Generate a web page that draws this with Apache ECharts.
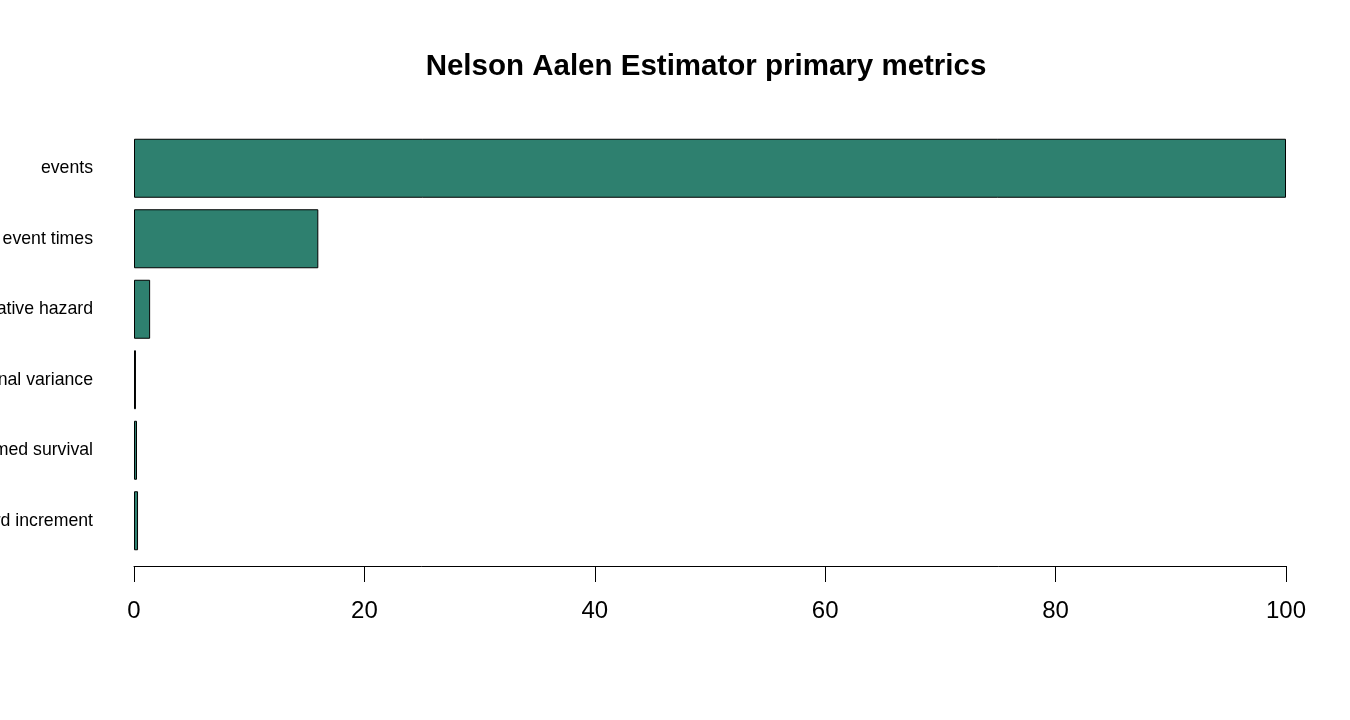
<!DOCTYPE html>
<html>
<head>
<meta charset="utf-8">
<script src="https://cdn.jsdelivr.net/npm/echarts@6/dist/echarts.min.js"></script>
<style>
html,body{margin:0;padding:0;background:#fff;}
#chart{width:1350px;height:720px;}
</style>
</head>
<body>
<div id="chart"></div>
<script>
const categories = ["events", "distinct event times", "cumulative hazard", "final variance", "transformed survival", "mean hazard increment"];
const values = [100, 16.0, 1.4, 0.17, 0.26, 0.35];
const xTicks = [0, 20, 40, 60, 80, 100];

const chart = echarts.init(document.getElementById('chart'));
const font = "Liberation Sans, Arial, sans-serif";
chart.setOption({
  backgroundColor: '#ffffff',
  animation: false,
  title: {
    text: 'Nelson Aalen Estimator primary metrics',
    left: 701,
    top: 47,
    textAlign: 'center',
    textStyle: { fontSize: 29.5, fontWeight: 'bold', color: '#000', fontFamily: font }
  },
  grid: { left: 134, right: 64, top: 133, bottom: 164, containLabel: false, outerBoundsMode: 'none' },
  xAxis: {
    type: 'value',
    min: xTicks[0],
    max: xTicks[xTicks.length - 1],
    interval: xTicks[1] - xTicks[0],
    offset: 10,
    axisLine: { show: true, lineStyle: { color: '#000', width: 1 } },
    axisTick: { show: true, length: 16, lineStyle: { color: '#000', width: 1 } },
    axisLabel: { margin: 33, fontSize: 24, color: '#000', fontFamily: font },
    splitLine: { show: false }
  },
  yAxis: {
    type: 'category',
    data: categories,
    inverse: true,
    axisLine: { show: false },
    axisTick: { show: false },
    axisLabel: { margin: 41, fontSize: 17.7, color: '#000', fontFamily: font, padding: [5, 0, 0, 0] }
  },
  series: [{
    type: 'bar',
    data: values,
    barWidth: 59,
    itemStyle: { color: '#2E806F', borderColor: '#000', borderWidth: 1 }
  }]
});
</script>
</body>
</html>
